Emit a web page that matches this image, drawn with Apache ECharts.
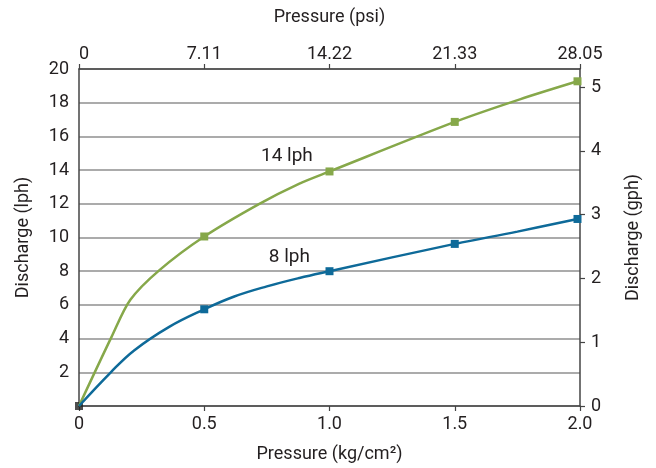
<!DOCTYPE html>
<html>
<head>
<meta charset="utf-8">
<script src="https://cdn.jsdelivr.net/npm/echarts@6/dist/echarts.min.js"></script>
<style>html,body{margin:0;padding:0;background:#fff;}#c{width:656px;height:468px;}</style>
</head>
<body>
<div id="c"></div>
<script>
// Bottom axis (kg/cm²) tick labels and top axis (psi) tick labels
const kgTicks = ['0', '0.5', '1.0', '1.5', '2.0'];
const psiTicks = ['0', '7.11', '14.22', '21.33', '28.05'];
const LPH_PER_GPH = 3.785;

// 14 lph dripper curve [pressure kg/cm², discharge lph]
const line14 = [[0,0],[0.13,4.1],[0.205,6.3],[0.32,8.05],[0.5,10.06],[0.72,12.0],[0.88,13.2],[1.0,13.92],[1.5,16.86],[1.76,18.2],[1.99,19.27]];
const marks14 = [0.5, 1.0, 1.5, 1.99];
// 8 lph dripper curve
const line8 = [[0,0],[0.127,2.0],[0.22,3.3],[0.36,4.7],[0.5,5.74],[0.62,6.5],[0.75,7.1],[0.88,7.6],[1.0,8.0],[1.5,9.62],[1.75,10.35],[1.99,11.1]];
const marks8 = [0.5, 1.0, 1.5, 1.99];
const origin = [[0,0]];
const seriesNames = ['14 lph', '8 lph'];
const labelPos14 = [0.83, 14.8];
const labelPos8 = [0.84, 8.8];

const FONT = 'Roboto';
const TXT = '#231f20';
const AX = '#444';
const FS = 18;

function withMarks(arr, marks) {
  return arr.map(p => ({ value: p, symbol: marks.indexOf(p[0]) >= 0 ? 'rect' : 'none' }));
}
function labelPoint(name, coord) {
  return {
    coord: coord, symbol: 'circle', symbolSize: 1, itemStyle: { color: 'rgba(0,0,0,0)' },
    label: { show: true, position: 'inside', formatter: name, fontFamily: FONT, fontSize: 19, color: TXT }
  };
}
const axLine = { show: true, onZero: false, lineStyle: { color: AX, width: 1.5 } };
const nameStyle = { fontFamily: FONT, fontSize: FS, color: TXT };

const chart = echarts.init(document.getElementById('c'), null, { renderer: 'canvas' });
chart.setOption({
  animation: false,
  grid: { left: 79, right: 76, top: 69, bottom: 62, containLabel: false },
  xAxis: [
    {
      type: 'value', position: 'bottom', min: 0, max: 2, interval: 0.5,
      name: 'Pressure (kg/cm²)', nameLocation: 'middle', nameGap: 39, nameTextStyle: nameStyle,
      axisLine: axLine,
      axisTick: { show: true, length: 5, lineStyle: { color: AX, width: 1.2 } },
      axisLabel: { fontFamily: FONT, fontSize: FS, color: TXT, margin: 9,
        formatter: v => kgTicks[Math.round(v * 2)] },
      splitLine: { show: false }
    },
    {
      type: 'value', position: 'top', min: 0, max: 2, interval: 0.5,
      name: 'Pressure (psi)', nameLocation: 'middle', nameGap: 43, nameTextStyle: nameStyle,
      axisLine: axLine,
      axisTick: { show: true, length: 5, lineStyle: { color: AX, width: 1.2 } },
      axisLabel: { fontFamily: FONT, fontSize: FS, color: TXT, margin: 6, alignMinLabel: 'left',
        formatter: v => psiTicks[Math.round(v * 2)] },
      splitLine: { show: false }
    }
  ],
  yAxis: [
    {
      type: 'value', position: 'left', min: 0, max: 20, interval: 2,
      name: 'Discharge (lph)', nameLocation: 'middle', nameGap: 47, nameTextStyle: nameStyle,
      axisLine: axLine,
      axisTick: { show: false },
      axisLabel: { fontFamily: FONT, fontSize: FS, color: TXT, margin: 10, showMinLabel: false },
      splitLine: { show: true, lineStyle: { color: '#8f8f8f', width: 1.5 } }
    },
    {
      type: 'value', position: 'right', min: 0, max: 20 / LPH_PER_GPH, interval: 1,
      name: 'Discharge (gph)', nameLocation: 'middle', nameGap: 44, nameTextStyle: nameStyle,
      axisLine: axLine,
      axisTick: { show: true, length: 5, lineStyle: { color: AX, width: 1.2 } },
      axisLabel: { fontFamily: FONT, fontSize: FS, color: TXT, margin: 11, showMaxLabel: false,
        formatter: v => String(Math.round(v)) },
      splitLine: { show: false }
    }
  ],
  series: [
    {
      name: seriesNames[0], type: 'line', xAxisIndex: 0, yAxisIndex: 0,
      data: withMarks(line14, marks14), smooth: 0.3, symbolSize: 8,
      lineStyle: { color: '#86a84a', width: 2.5 }, itemStyle: { color: '#86a84a' },
      markPoint: { silent: true, data: [labelPoint(seriesNames[0], labelPos14)] }
    },
    {
      name: seriesNames[1], type: 'line', xAxisIndex: 0, yAxisIndex: 0,
      data: withMarks(line8, marks8), smooth: 0.4, symbolSize: 8,
      lineStyle: { color: '#0e6a99', width: 2.5 }, itemStyle: { color: '#0e6a99' },
      markPoint: { silent: true, data: [labelPoint(seriesNames[1], labelPos8)] }
    },
    {
      type: 'scatter', xAxisIndex: 0, yAxisIndex: 0, data: origin,
      symbol: 'rect', symbolSize: 8, itemStyle: { color: '#222' }, clip: false
    }
  ]
});
</script>
</body>
</html>
